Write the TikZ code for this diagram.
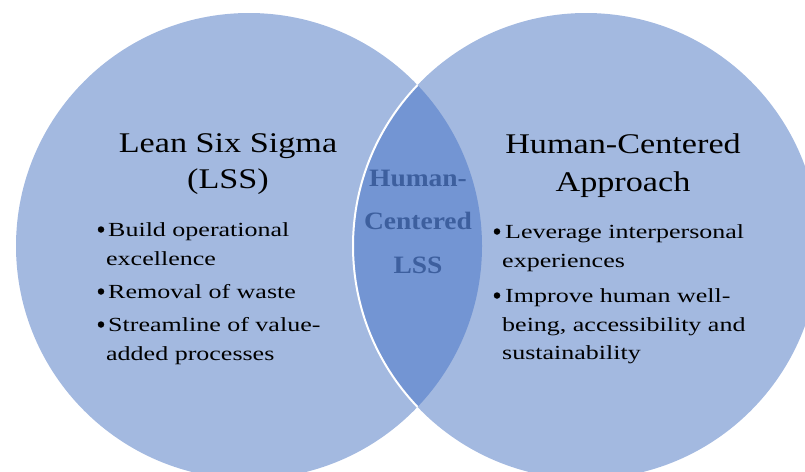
\documentclass[tikz,border=0pt]{standalone}
\usepackage{fontspec}
\setmainfont{Liberation Serif}
\newfontfamily\titlefont[FakeStretch=1.2]{Liberation Serif}
\newfontfamily\bulfont[FakeStretch=1.3]{Liberation Serif}
\newfontfamily\lensfont[FakeStretch=1.1]{Liberation Serif}
\definecolor{circfill}{HTML}{A3B9E0}
\definecolor{lensfill}{HTML}{7395D3}
\definecolor{lenstext}{HTML}{3D5F9E}
\begin{document}
\begin{tikzpicture}[x=1pt,y=-1pt,
  title/.style={anchor=base,font=\titlefont\fontsize{28.5}{38}\selectfont,inner sep=0pt},
  bul/.style={anchor=base west,font=\bulfont\fontsize{20}{29}\selectfont,inner sep=0pt},
  dot/.style={circle,fill=black,inner sep=0pt,minimum size=6.5pt},
  lenslbl/.style={anchor=base,font=\lensfont\fontsize{25}{43}\selectfont\bfseries,text=lenstext,inner sep=0pt}]
\useasboundingbox (0,0) rectangle (805,471);
\begin{scope}
\clip (0,0) rectangle (805,471);
\fill[circfill] (249,246) circle (233);
\fill[circfill] (586,246) circle (233);
\begin{scope}
\clip (249,246) circle (233);
\fill[lensfill] (586,246) circle (233);
\end{scope}
\begin{scope}
\clip (249,246) circle (233);
\draw[white,line width=2pt] (586,246) circle (233);
\end{scope}
\end{scope}
% left titles
\node[title] (lt1) at (228,152) {Lean Six Sigma};
\node[title] (lt2) at (228,188) {(LSS)};
% right titles
\node[title] (rt1) at (623,153) {Human-Centered};
\node[title] (rt2) at (623,191) {Approach};
% lens
\node[lenslbl] (c1) at (418,186) {Human-};
\node[lenslbl] (c2) at (418,229) {Centered};
\node[lenslbl] (c3) at (418,273) {LSS};
% left bullets
\node[dot] (lb1) at (101,229.5) {};
\node[bul] (l1a) at (108,236) {Build operational};
\node[bul] (l1b) at (106,265) {excellence};
\node[dot] (lb2) at (101,291.5) {};
\node[bul] (l2a) at (108,298) {Removal of waste};
\node[dot] (lb3) at (101,324.5) {};
\node[bul] (l3a) at (108,331) {Streamline of value-};
\node[bul] (l3b) at (106,360) {added processes};
% right bullets
\node[dot] (rb1) at (497,231.5) {};
\node[bul] (r1a) at (505,238) {Leverage interpersonal};
\node[bul] (r1b) at (502,267) {experiences};
\node[dot] (rb2) at (497,295.5) {};
\node[bul] (r2a) at (505,302) {Improve human well-};
\node[bul] (r2b) at (502,331) {being, accessibility and};
\node[bul] (r2c) at (502,359) {sustainability};
\end{tikzpicture}
\end{document}
